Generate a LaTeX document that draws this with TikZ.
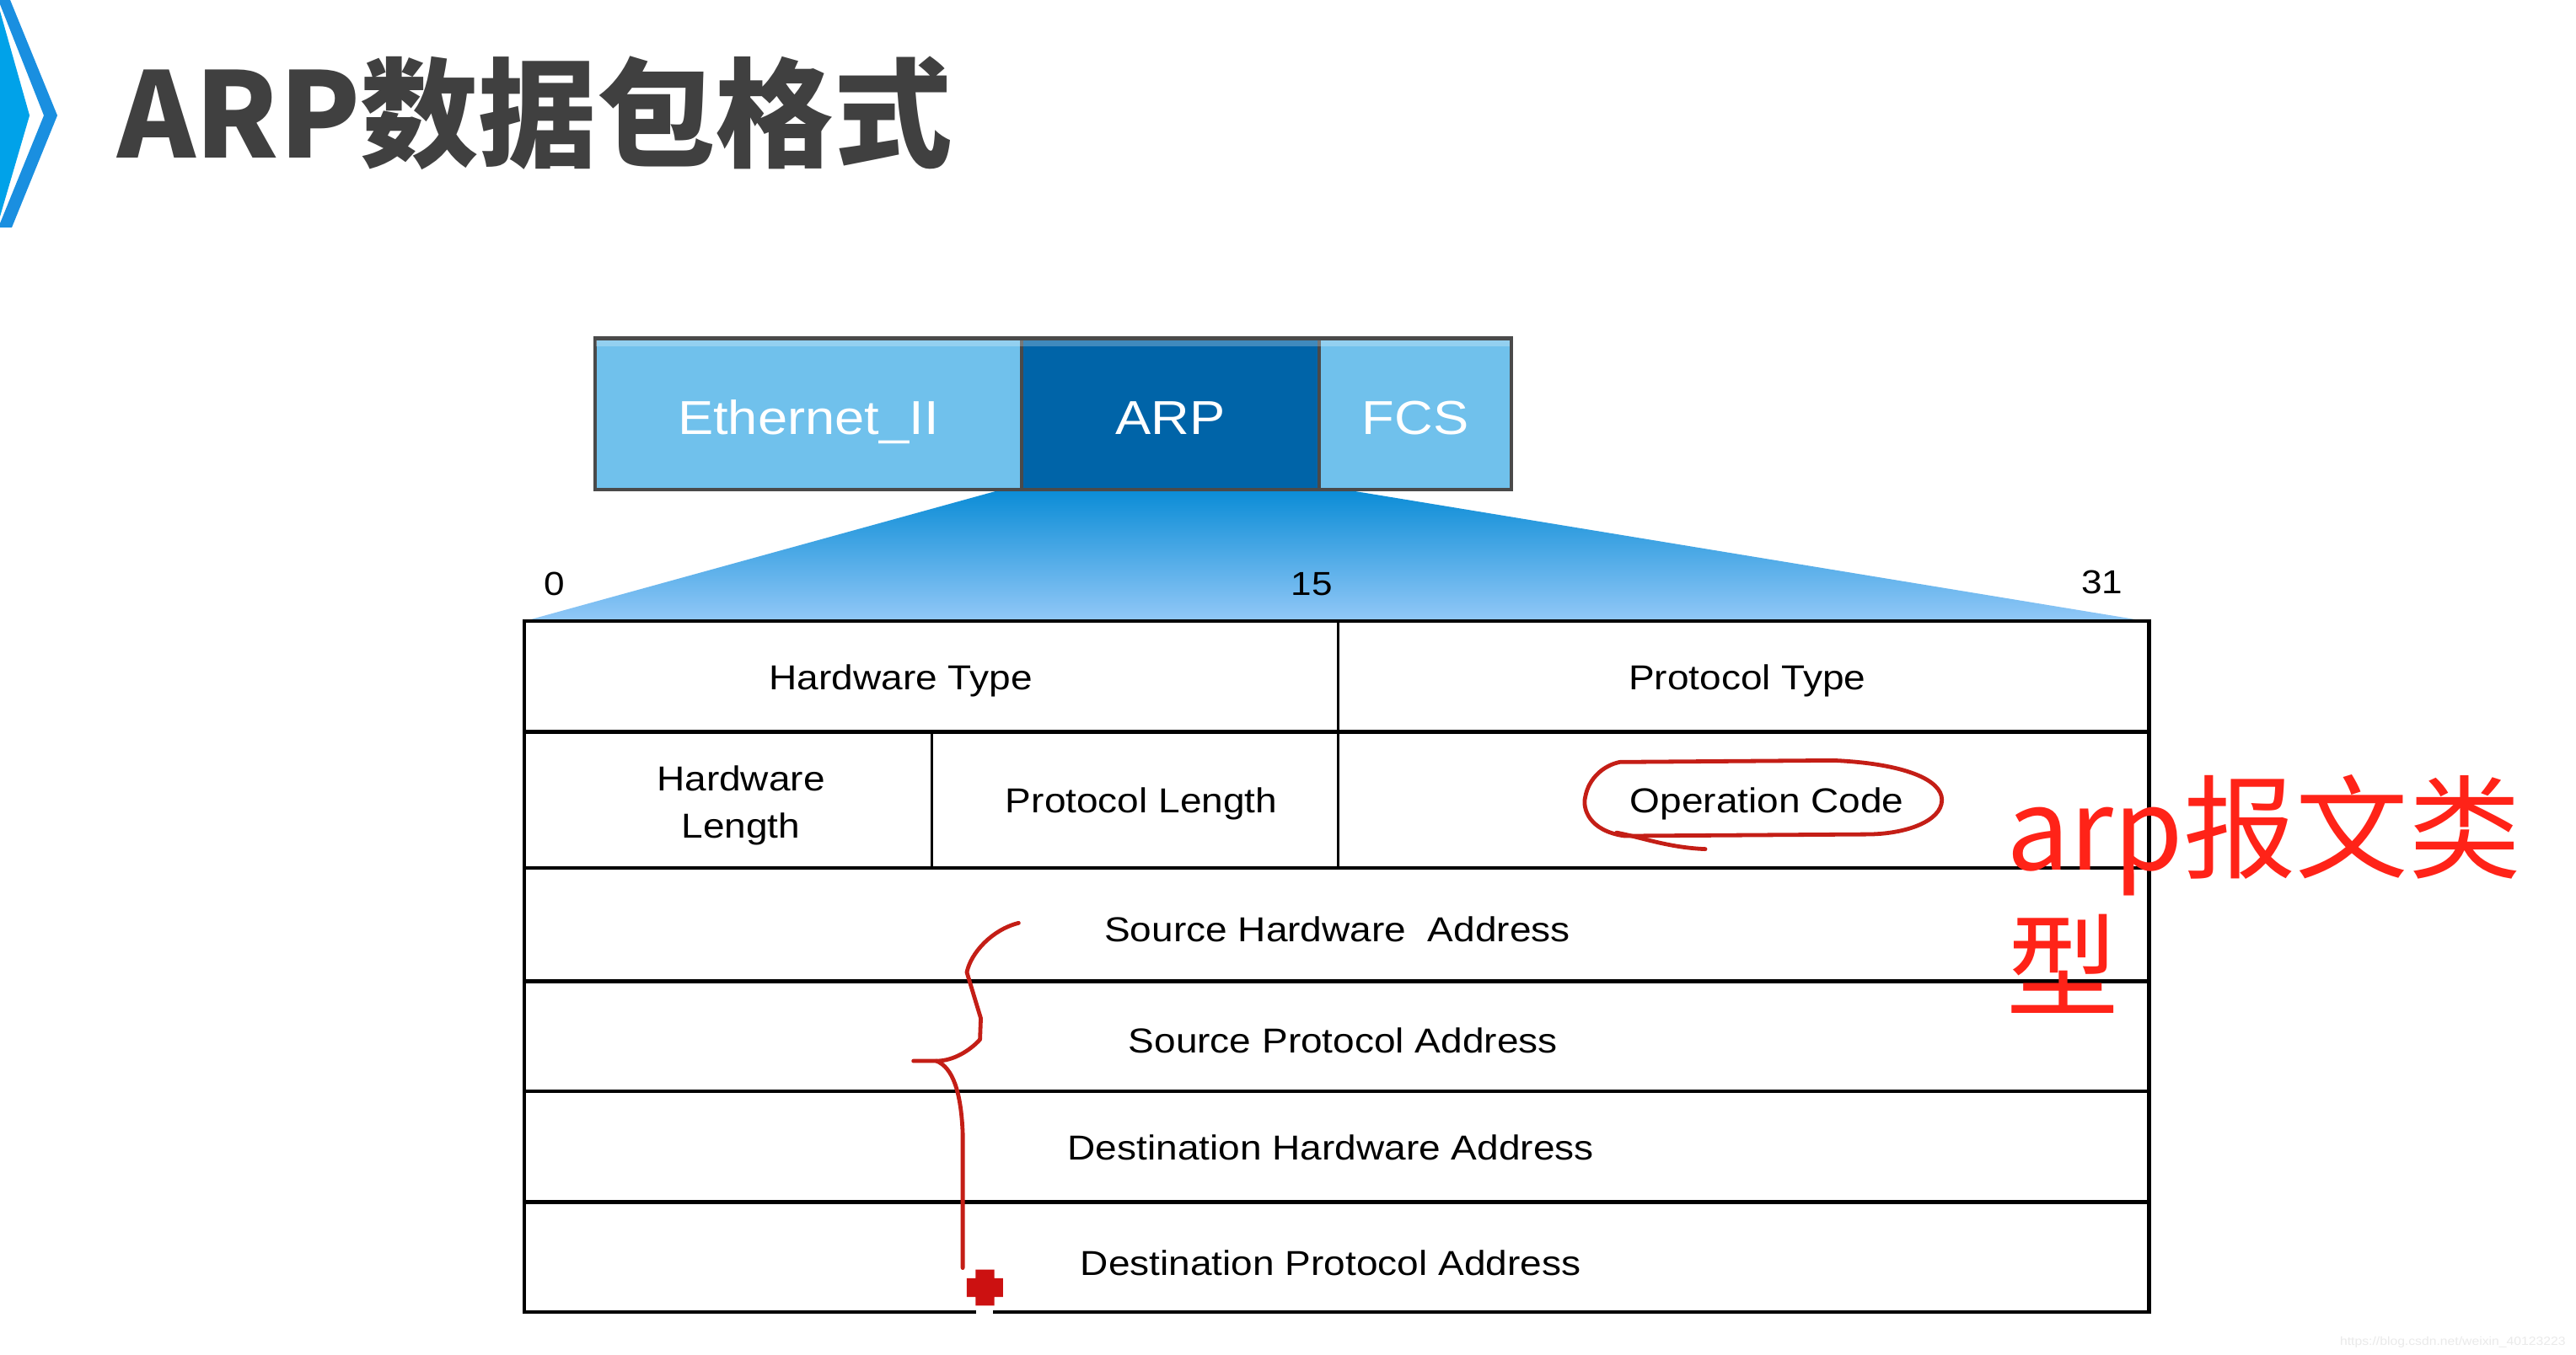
\documentclass[tikz,border=0pt]{standalone}
\usepackage{fontspec}
\setmainfont{Liberation Sans}[FakeStretch=1.12]
\newfontfamily\cjk{Noto Sans CJK SC}
\definecolor{titlegray}{HTML}{404040}
\definecolor{chevband}{HTML}{1A8FE0}
\definecolor{chevfill}{HTML}{00A2E9}
\definecolor{ethblue}{HTML}{70C1EC}
\definecolor{arpblue}{HTML}{0064A8}
\definecolor{boxborder}{HTML}{4A4A4A}
\definecolor{trtop}{HTML}{0A8CD6}
\definecolor{trbot}{HTML}{92C8F7}
\definecolor{penred}{HTML}{C41E16}
\definecolor{textred}{HTML}{FF2318}
\definecolor{crossred}{HTML}{CC1111}
\definecolor{wmgray}{HTML}{EAEAEA}
\begin{document}
\begin{tikzpicture}[x=0.02cm, y=-0.02cm,
  hdrbox/.style={draw=boxborder, line width=1.2pt, minimum height=1.84cm, inner sep=0pt, outer sep=0pt, text=white, font=\fontsize{16.5}{20}\selectfont, text height=14.4pt, text depth=0pt},
  celltext/.style={inner sep=0pt, font=\fontsize{12}{16.5}\selectfont, text=black},
  bitnum/.style={inner sep=0pt, font=\fontsize{11.5}{14}\selectfont, text=black},
  hline/.style={line width=1.3pt},
  vline/.style={line width=0.9pt},
  redpen/.style={draw=penred, line width=1.4pt, line cap=round, line join=round},
  notetext/.style={inner sep=0pt, text=textred, font=\cjk\fontsize{39}{47}\selectfont}
]
\fill[white] (0,0) rectangle (1568,825);
\useasboundingbox (0,0) rectangle (1568,825);

% chevron
\fill[chevband] (0,0) -- (6.2,0) -- (34.9,70.3) -- (7.2,138.5) -- (0,138.5) -- (0,136) -- (26.7,70.3) -- (0,2.6) -- cycle;
\fill[chevfill] (0,6.7) -- (18,70.3) -- (0,131.9) -- cycle;

% title
\node[anchor=base west, inner sep=0pt, text=titlegray, font=\cjk\bfseries\fontsize{41}{49}\selectfont] (title) at (71,96) {ARP数据包格式};

% zoom trapezoid
\shade[top color=trtop, bottom color=trbot] (610,298) -- (818,298) -- (1305,378) -- (320,378) -- cycle;

% header boxes
\node[hdrbox, fill=ethblue, minimum width=5.2cm] (eth) at (492,252) {Ethernet\_II};
\node[hdrbox, fill=arpblue, minimum width=3.62cm] (arp) at (712.5,252) {ARP};
\node[hdrbox, fill=ethblue, minimum width=2.34cm] (fcs) at (861.5,252) {FCS};
\fill[white, opacity=0.25] (363,207.2) rectangle (919,211);

% bit numbers
\node[bitnum, anchor=base] (n0) at (337.5,362.6) {0};
\node[bitnum, anchor=base] (n15) at (798.5,362.6) {15};
\node[bitnum, anchor=base] (n31) at (1279.5,361.7) {31};

% table grid
\draw[hline] (319,378) rectangle (1308,799);
\foreach \yy in {445.5,528.5,597.5,664.5,732} \draw[hline] (319,\yy) -- (1308,\yy);
\draw[vline] (814.5,378) -- (814.5,528.5);
\draw[vline] (567,445.5) -- (567,528.5);

% cell texts
\node[celltext, anchor=base] (ht) at (548.3,420) {Hardware Type};
\node[celltext, anchor=base] (pt) at (1063.5,420) {Protocol Type};
\node[celltext, align=center, anchor=center] (hl) at (451,490.5) {Hardware\\Length};
\node[celltext, anchor=base] (pl) at (694.8,495) {Protocol Length};
\node[celltext, anchor=base] (oc) at (1075.5,495) {Operation Code};
\node[celltext, anchor=base] (sha) at (814,573.5) {Source Hardware\ \ Address};
\node[celltext, anchor=base] (spa) at (817.5,641) {Source Protocol Address};
\node[celltext, anchor=base] (dha) at (810,706) {Destination Hardware Address};
\node[celltext, anchor=base] (dpa) at (810,776.5) {Destination Protocol Address};

% red hand-drawn ellipse around Operation Code
\draw[redpen] (986,464) -- (1116,463) .. controls (1160,465) and (1182,475) .. (1182,487)
  .. controls (1182,500) and (1160,508) .. (1136,508) -- (989,509)
  .. controls (967,506) and (963,492) .. (965,485) .. controls (967,474) and (976,466) .. (986,464);
\draw[redpen] (984,507) .. controls (1000,510) and (1015,516) .. (1038,517);

% red brace
\coordinate (bracetop) at (620,562);
\coordinate (bracemid) at (570,646);
\coordinate (braceleft) at (556,646);
\coordinate (bracebot) at (586,772);
\draw[redpen] (bracetop) .. controls (604,566) and (591,580) .. (588.5,592) -- (597,620) -- (596.5,633)
  .. controls (590,640) and (580,646) .. (bracemid) -- (braceleft);
\draw[redpen] (bracemid) .. controls (580,650) and (585,665) .. (586,690) -- (bracebot);

% red cross
\fill[white] (594,795.5) rectangle (604.5,801.5);
\fill[crossred] (593.8,773) -- (605.2,773) -- (605.2,778.3) -- (610.5,778.3) -- (610.5,789.7) -- (605.2,789.7)
  -- (605.2,795) -- (593.8,795) -- (593.8,789.7) -- (588.5,789.7) -- (588.5,778.3) -- (593.8,778.3) -- cycle;

% red note
\node[notetext, anchor=base west] (note1) at (1221,530) {arp报文类};
\node[notetext, anchor=base west] (note2) at (1221,614) {型};

% watermark
\node[anchor=base west, inner sep=0pt, text=wmgray, font=\fontsize{4.1}{5}\selectfont] (wm) at (1424,819) {https://blog.csdn.net/weixin\_40123223};
\end{tikzpicture}
\end{document}
